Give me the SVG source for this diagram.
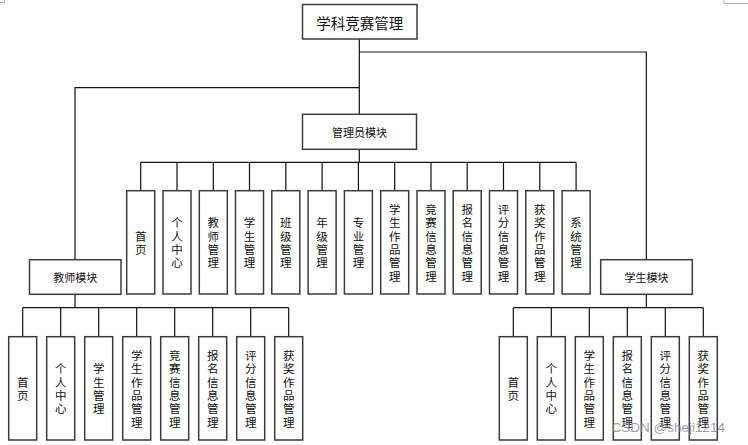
<svg xmlns="http://www.w3.org/2000/svg" width="748" height="445" viewBox="0 0 748 445">
<style>
.box{fill:#fff;stroke:#3c3c3c;stroke-width:1.5}
.ln{fill:none;stroke:#111;stroke-width:1.2}
.t{font-family:"Noto Sans CJK SC","Noto Sans",sans-serif;fill:#111;text-anchor:middle;dominant-baseline:central}
.v{font-size:11.5px}
.h{font-size:11px}
.mark{fill:none;stroke:#b0b0b0;stroke-width:1}
</style>
<rect width="748" height="445" fill="#fff"/>
<path class="mark" d="M0 2.5H4.5V0M724 0V3.5H748"/>
<g id="connectors">
<path class="ln" d="M359.3 39V114.3M359.3 52H646.3V259.7M359.3 87.7H75V259.7"/>
<path class="ln" d="M359.3 149.3V162.3M140.7 162.3H576.1M140.7 162.3V190.7M177 162.3V190.7M213.3 162.3V190.7M249.5 162.3V190.7M285.8 162.3V190.7M322.1 162.3V190.7M358.4 162.3V190.7M394.7 162.3V190.7M431 162.3V190.7M467.2 162.3V190.7M503.5 162.3V190.7M539.8 162.3V190.7M576.1 162.3V190.7"/>
<path class="ln" d="M75 294.3V307.7M22.7 307.7H288.7M22.7 307.7V336.7M60.7 307.7V336.7M98.7 307.7V336.7M136.7 307.7V336.7M174.7 307.7V336.7M212.7 307.7V336.7M250.7 307.7V336.7M288.7 307.7V336.7"/>
<path class="ln" d="M646.3 294.3V307.7M513.3 307.7H703.3M513.3 307.7V336.7M551.3 307.7V336.7M589.3 307.7V336.7M627.3 307.7V336.7M665.3 307.7V336.7M703.3 307.7V336.7"/>
</g>
<g id="root"><rect class="box" x="302.5" y="4.5" width="114.5" height="34.5"/><text class="t" x="359.7" y="22" font-size="14.5px">学科竞赛管理</text></g>
<g id="admin"><rect class="box" x="302.5" y="114.3" width="114" height="35"/><text class="t h" x="359.5" y="132.3">管理员模块</text></g>
<g id="teacher"><rect class="box" x="29.5" y="259.7" width="91.5" height="34.6"/><text class="t h" x="75.3" y="277.3">教师模块</text></g>
<g id="student"><rect class="box" x="600.7" y="259.7" width="91.6" height="34.6"/><text class="t h" x="646.5" y="277.3">学生模块</text></g>
<g id="a1"><rect class="box" x="126.7" y="190.7" width="28" height="103.3"/><text class="t v" x="140.7 140.7" y="235.65 248.95">首页</text></g>
<g id="a2"><rect class="box" x="163" y="190.7" width="28" height="103.3"/><text class="t v" x="177 177 177 177" y="222.35 235.65 248.95 262.25">个人中心</text></g>
<g id="a3"><rect class="box" x="199.3" y="190.7" width="28" height="103.3"/><text class="t v" x="213.3 213.3 213.3 213.3" y="222.35 235.65 248.95 262.25">教师管理</text></g>
<g id="a4"><rect class="box" x="235.5" y="190.7" width="28" height="103.3"/><text class="t v" x="249.5 249.5 249.5 249.5" y="222.35 235.65 248.95 262.25">学生管理</text></g>
<g id="a5"><rect class="box" x="271.8" y="190.7" width="28" height="103.3"/><text class="t v" x="285.8 285.8 285.8 285.8" y="222.35 235.65 248.95 262.25">班级管理</text></g>
<g id="a6"><rect class="box" x="308.1" y="190.7" width="28" height="103.3"/><text class="t v" x="322.1 322.1 322.1 322.1" y="222.35 235.65 248.95 262.25">年级管理</text></g>
<g id="a7"><rect class="box" x="344.4" y="190.7" width="28" height="103.3"/><text class="t v" x="358.4 358.4 358.4 358.4" y="222.35 235.65 248.95 262.25">专业管理</text></g>
<g id="a8"><rect class="box" x="380.7" y="190.7" width="28" height="103.3"/><text class="t v" x="394.7 394.7 394.7 394.7 394.7 394.7" y="209.05 222.35 235.65 248.95 262.25 275.55">学生作品管理</text></g>
<g id="a9"><rect class="box" x="417" y="190.7" width="28" height="103.3"/><text class="t v" x="431 431 431 431 431 431" y="209.05 222.35 235.65 248.95 262.25 275.55">竞赛信息管理</text></g>
<g id="a10"><rect class="box" x="453.2" y="190.7" width="28" height="103.3"/><text class="t v" x="467.2 467.2 467.2 467.2 467.2 467.2" y="209.05 222.35 235.65 248.95 262.25 275.55">报名信息管理</text></g>
<g id="a11"><rect class="box" x="489.5" y="190.7" width="28" height="103.3"/><text class="t v" x="503.5 503.5 503.5 503.5 503.5 503.5" y="209.05 222.35 235.65 248.95 262.25 275.55">评分信息管理</text></g>
<g id="a12"><rect class="box" x="525.8" y="190.7" width="28" height="103.3"/><text class="t v" x="539.8 539.8 539.8 539.8 539.8 539.8" y="209.05 222.35 235.65 248.95 262.25 275.55">获奖作品管理</text></g>
<g id="a13"><rect class="box" x="562.1" y="190.7" width="28" height="103.3"/><text class="t v" x="576.1 576.1 576.1 576.1" y="222.35 235.65 248.95 262.25">系统管理</text></g>
<g id="t1"><rect class="box" x="8.7" y="336.7" width="28" height="103.3"/><text class="t v" x="22.7 22.7" y="381.65 394.95">首页</text></g>
<g id="t2"><rect class="box" x="46.7" y="336.7" width="28" height="103.3"/><text class="t v" x="60.7 60.7 60.7 60.7" y="368.35 381.65 394.95 408.25">个人中心</text></g>
<g id="t3"><rect class="box" x="84.7" y="336.7" width="28" height="103.3"/><text class="t v" x="98.7 98.7 98.7 98.7" y="368.35 381.65 394.95 408.25">学生管理</text></g>
<g id="t4"><rect class="box" x="122.7" y="336.7" width="28" height="103.3"/><text class="t v" x="136.7 136.7 136.7 136.7 136.7 136.7" y="355.05 368.35 381.65 394.95 408.25 421.55">学生作品管理</text></g>
<g id="t5"><rect class="box" x="160.7" y="336.7" width="28" height="103.3"/><text class="t v" x="174.7 174.7 174.7 174.7 174.7 174.7" y="355.05 368.35 381.65 394.95 408.25 421.55">竞赛信息管理</text></g>
<g id="t6"><rect class="box" x="198.7" y="336.7" width="28" height="103.3"/><text class="t v" x="212.7 212.7 212.7 212.7 212.7 212.7" y="355.05 368.35 381.65 394.95 408.25 421.55">报名信息管理</text></g>
<g id="t7"><rect class="box" x="236.7" y="336.7" width="28" height="103.3"/><text class="t v" x="250.7 250.7 250.7 250.7 250.7 250.7" y="355.05 368.35 381.65 394.95 408.25 421.55">评分信息管理</text></g>
<g id="t8"><rect class="box" x="274.7" y="336.7" width="28" height="103.3"/><text class="t v" x="288.7 288.7 288.7 288.7 288.7 288.7" y="355.05 368.35 381.65 394.95 408.25 421.55">获奖作品管理</text></g>
<g id="s1"><rect class="box" x="499.3" y="336.7" width="28" height="103.3"/><text class="t v" x="513.3 513.3" y="381.65 394.95">首页</text></g>
<g id="s2"><rect class="box" x="537.3" y="336.7" width="28" height="103.3"/><text class="t v" x="551.3 551.3 551.3 551.3" y="368.35 381.65 394.95 408.25">个人中心</text></g>
<g id="s3"><rect class="box" x="575.3" y="336.7" width="28" height="103.3"/><text class="t v" x="589.3 589.3 589.3 589.3 589.3 589.3" y="355.05 368.35 381.65 394.95 408.25 421.55">学生作品管理</text></g>
<g id="s4"><rect class="box" x="613.3" y="336.7" width="28" height="103.3"/><text class="t v" x="627.3 627.3 627.3 627.3 627.3 627.3" y="355.05 368.35 381.65 394.95 408.25 421.55">报名信息管理</text></g>
<g id="s5"><rect class="box" x="651.3" y="336.7" width="28" height="103.3"/><text class="t v" x="665.3 665.3 665.3 665.3 665.3 665.3" y="355.05 368.35 381.65 394.95 408.25 421.55">评分信息管理</text></g>
<g id="s6"><rect class="box" x="689.3" y="336.7" width="28" height="103.3"/><text class="t v" x="703.3 703.3 703.3 703.3 703.3 703.3" y="355.05 368.35 381.65 394.95 408.25 421.55">获奖作品管理</text></g>
<text x="611.5" y="432" font-family="'Liberation Sans',Arial,sans-serif" font-size="13.5px" fill="#8c8c8c" fill-opacity="0.85">CSDN @sheji1214</text>
</svg>
